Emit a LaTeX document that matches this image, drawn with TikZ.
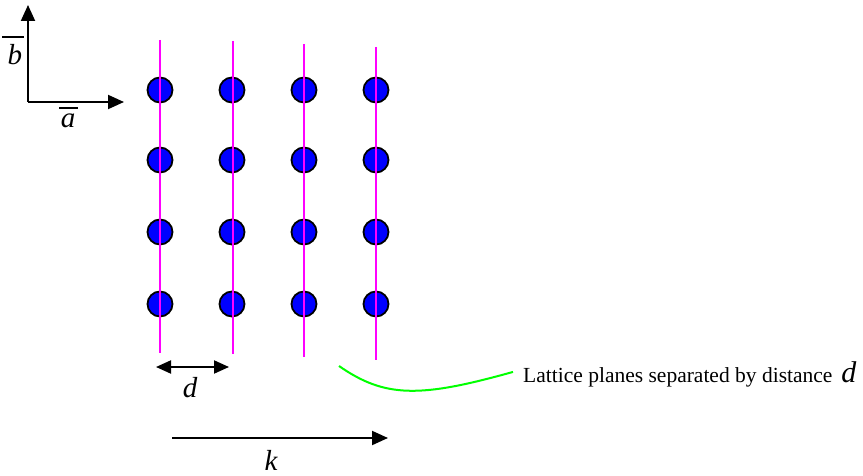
\documentclass[tikz,border=0pt]{standalone}
\usepackage{fontspec}
\setmainfont{Liberation Serif}
\usetikzlibrary{arrows.meta}
\definecolor{planecol}{RGB}{255,0,255}
\definecolor{atomcol}{RGB}{0,0,255}
\definecolor{calloutcol}{RGB}{0,255,0}
\tikzset{
  atom/.style={circle,draw=black,line width=1.8pt,fill=atomcol,minimum size=25pt,inner sep=0pt},
  plane/.style={draw=planecol,line width=2pt},
  vec/.style={draw=black,line width=2pt,-{Triangle[length=16pt,width=14pt]}},
  dvec/.style={draw=black,line width=2pt,{Triangle[length=15pt,width=13pt]}-{Triangle[length=15pt,width=13pt]}},
  lbl/.style={inner sep=0pt,font=\fontsize{29}{29}\selectfont\itshape},
  bar/.style={draw=black,line width=1.3pt},
  note/.style={inner sep=0pt,font=\fontsize{21.5}{22}\selectfont},
  callout/.style={draw=calloutcol,line width=2pt}
}
\begin{document}
\begin{tikzpicture}[x=1pt,y=-1pt]
\useasboundingbox (0,0) rectangle (863,476);
% atoms
\foreach \c/\x in {1/160,2/232,3/304,4/376}{
  \foreach \r/\y in {1/90,2/160,3/232,4/304}{
    \node[atom] (a\c\r) at (\x,\y) {};
  }
}
% lattice planes
\coordinate (p1t) at (160,40);  \coordinate (p1b) at (160,353);
\coordinate (p2t) at (233,41);  \coordinate (p2b) at (233,354);
\coordinate (p3t) at (304,44);  \coordinate (p3b) at (304,357);
\coordinate (p4t) at (376,47);  \coordinate (p4b) at (376,360);
\draw[plane] (p1t) -- (p1b);
\draw[plane] (p2t) -- (p2b);
\draw[plane] (p3t) -- (p3b);
\draw[plane] (p4t) -- (p4b);
% axes
\coordinate (o) at (28,102);
\coordinate (btip) at (28,5);
\coordinate (atip) at (124,102);
\draw[vec] (o) -- (btip);
\draw[vec] (o) -- (atip);
\node[lbl,anchor=base] (blab) at (15,65) {b};
\coordinate (bbl) at (2,37); \coordinate (bbr) at (24,37);
\draw[bar] (bbl) -- (bbr);
\node[lbl,anchor=base] (alab) at (68,128) {a};
\coordinate (abl) at (59,108); \coordinate (abr) at (78,108);
\draw[bar] (abl) -- (abr);
% spacing d
\coordinate (dl) at (156,367);
\coordinate (dr) at (229,367);
\draw[dvec] (dl) -- (dr);
\node[lbl,anchor=base] (dlab) at (190,397) {d};
% wave vector k
\coordinate (kl) at (172,438);
\coordinate (kr) at (388,438);
\draw[vec] (kl) -- (kr);
\node[lbl,anchor=base] (klab) at (271,470) {k};
% callout
\node[note,anchor=base west] (txt) at (523,382) {Lattice planes separated by distance\hspace{9pt}{\fontsize{30}{30}\selectfont\itshape d}};
\coordinate (cs) at (339,366);
\draw[callout] (cs) .. controls (385,398) and (420,398) .. ([xshift=-10pt,yshift=2pt]txt.west);
\end{tikzpicture}
\end{document}
